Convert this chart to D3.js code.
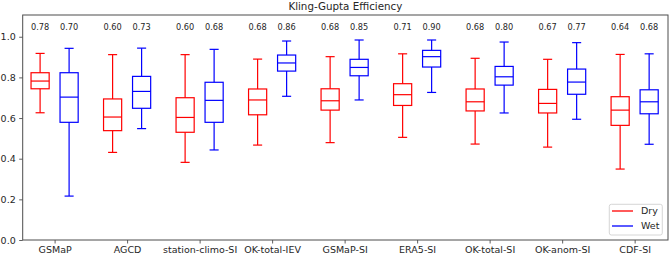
<!DOCTYPE html>
<html><head><meta charset="utf-8">
<script src="https://cdn.jsdelivr.net/npm/d3@7"></script>
<style>body{margin:0;background:#fff}svg{display:block}text{font-family:"DejaVu Sans",sans-serif;fill:#262626}</style>
</head><body><svg id="c" width="669" height="256"></svg>
<script>
const categories = ["GSMaP","AGCD","station-climo-SI","OK-total-IEV","GSMaP-SI","ERA5-SI","OK-total-SI","OK-anom-SI","CDF-SI"];
// [whisker low, Q1, median, Q3, whisker high]
const dryStats = [
  [0.626,0.744,0.782,0.823,0.918],
  [0.431,0.538,0.605,0.694,0.912],
  [0.382,0.530,0.603,0.700,0.912],
  [0.467,0.616,0.689,0.743,0.890],
  [0.479,0.639,0.685,0.744,0.902],
  [0.505,0.662,0.715,0.769,0.916],
  [0.472,0.635,0.680,0.743,0.894],
  [0.457,0.625,0.672,0.741,0.889],
  [0.349,0.564,0.639,0.705,0.913]
];
const wetStats = [
  [0.216,0.579,0.703,0.823,0.943],
  [0.548,0.648,0.731,0.805,0.944],
  [0.443,0.579,0.687,0.776,0.938],
  [0.707,0.831,0.871,0.910,0.979],
  [0.689,0.808,0.849,0.889,0.984],
  [0.726,0.851,0.902,0.933,0.984],
  [0.625,0.762,0.803,0.854,0.974],
  [0.594,0.717,0.777,0.841,0.971],
  [0.471,0.621,0.680,0.739,0.916]
];
const dryLabels = ["0.78","0.60","0.60","0.68","0.68","0.71","0.68","0.67","0.64"];
const wetLabels = ["0.70","0.73","0.68","0.86","0.85","0.90","0.80","0.77","0.68"];
const yTicks = [0,0.2,0.4,0.6,0.8,1.0];
const seriesNames = ["Dry","Wet"];
const seriesColors = ["#ff0000","#0000ff"];

const L=22.7,R=668,T=15,B=240;
const svg=d3.select("#c");
const x=d3.scaleLinear().domain([0.56,9.46]).range([L,R]);
const y=d3.scaleLinear().domain([0,1.107]).range([B,T]);
const axisCol="#4d4d4d";

// axes
const ya=svg.append("g").attr("transform",`translate(${L},0)`)
  .call(d3.axisLeft(y).tickValues(yTicks).tickFormat(d3.format(".1f")).tickSize(3.5).tickPadding(3.5));
const xa=svg.append("g").attr("transform",`translate(0,${B})`)
  .call(d3.axisBottom(x).tickValues(d3.range(1,10)).tickFormat((d,i)=>categories[i]).tickSize(3.5).tickPadding(3));
[ya,xa].forEach(g=>{g.select(".domain").remove();g.selectAll("line").attr("stroke",axisCol).attr("stroke-width",0.9);
  g.selectAll("text").attr("font-size","9.5px").attr("fill","#262626").style("font-family","DejaVu Sans");});
svg.append("rect").attr("x",L).attr("y",T).attr("width",R-L).attr("height",B-T)
  .attr("fill","none").attr("stroke",axisCol).attr("stroke-width",1);

const bw = x(1.25)-x(1);
function drawBoxes(stats,offset,color){
  const g=svg.append("g").attr("stroke",color).attr("stroke-width",1.2).attr("fill","none");
  stats.forEach((s,i)=>{
    const cx=x(i+1+offset);
    g.append("line").attr("x1",cx).attr("x2",cx).attr("y1",y(s[0])).attr("y2",y(s[1]));
    g.append("line").attr("x1",cx).attr("x2",cx).attr("y1",y(s[3])).attr("y2",y(s[4]));
    g.append("line").attr("x1",cx-bw/4).attr("x2",cx+bw/4).attr("y1",y(s[0])).attr("y2",y(s[0]));
    g.append("line").attr("x1",cx-bw/4).attr("x2",cx+bw/4).attr("y1",y(s[4])).attr("y2",y(s[4]));
    g.append("rect").attr("x",cx-bw/2).attr("y",y(s[3])).attr("width",bw).attr("height",y(s[1])-y(s[3]));
    g.append("line").attr("x1",cx-bw/2).attr("x2",cx+bw/2).attr("y1",y(s[2])).attr("y2",y(s[2]));
  });
}
drawBoxes(dryStats,-0.2,seriesColors[0]);
drawBoxes(wetStats,0.2,seriesColors[1]);

// median labels
[[dryLabels,-0.2],[wetLabels,0.2]].forEach(([labs,off])=>{
  svg.append("g").selectAll("text").data(labs).join("text")
    .attr("x",(d,i)=>x(i+1+off)).attr("y",29.5).attr("text-anchor","middle")
    .attr("font-size","8.2px").text(d=>d);
});

// title
svg.append("text").attr("x",(L+R)/2).attr("y",10).attr("text-anchor","middle")
  .attr("font-size","10.3px").text("Kling-Gupta Efficiency");

// legend
const lg=svg.append("g");
lg.append("rect").attr("x",609.3).attr("y",204.3).attr("width",53).attr("height",30.7).attr("rx",2)
  .attr("fill","#fff").attr("fill-opacity",0.8).attr("stroke","#cccccc").attr("stroke-width",0.8);
seriesNames.forEach((n,i)=>{
  const yy=211+i*15;
  lg.append("line").attr("x1",612).attr("x2",633).attr("y1",yy).attr("y2",yy)
    .attr("stroke",seriesColors[i]).attr("stroke-width",1.3);
  lg.append("text").attr("x",641).attr("y",yy+3.4).attr("font-size","9.5px").text(n);
});
</script></body></html>
